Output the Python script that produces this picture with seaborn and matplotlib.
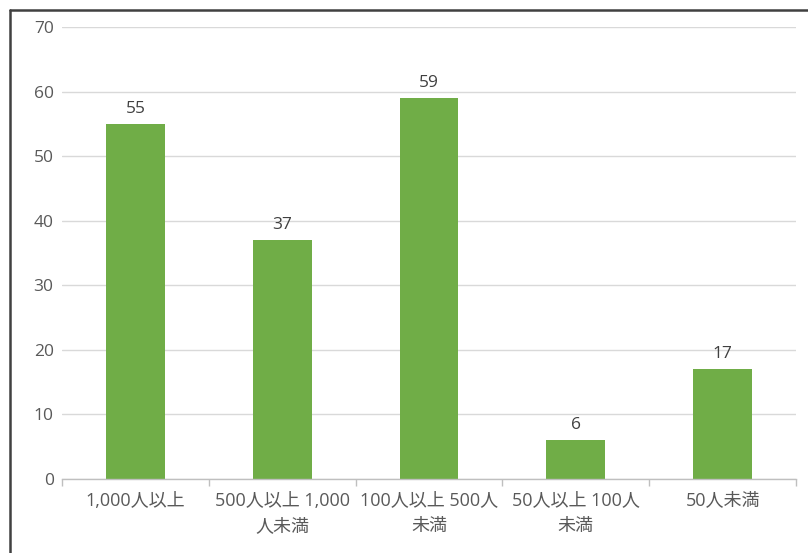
import matplotlib
matplotlib.use("Agg")
import matplotlib.pyplot as plt
import seaborn as sns
import pandas as pd
from matplotlib.lines import Line2D
from matplotlib.ticker import FixedLocator

categories = ["1,000人以上", "500人以上 1,000\n人未満", "100人以上 500人\n未満", "50人以上 100人\n未満", "50人未満"]
values = [55, 37, 59, 6, 17]
yticks = [0, 10, 20, 30, 40, 50, 60, 70]

sns.set_theme(style="white")
plt.rcParams['font.family'] = ['Open Sans', 'Noto Sans CJK JP', 'DejaVu Sans']

df = pd.DataFrame({"cat": categories, "val": values})

fig = plt.figure(figsize=(8.08, 5.53), dpi=100)
ax = fig.add_axes([62/808, 1-479/553, (796-62)/808, (479-27)/553])

sns.barplot(data=df, x="cat", y="val", color="#70ad47", saturation=1, width=0.4, ax=ax, edgecolor="none")

ax.set_ylim(0, 70)
ax.set_xlim(-0.5, len(categories)-0.5)
ax.set_yticks(yticks)
ax.yaxis.grid(True, color="#d9d9d9", linewidth=1)
ax.set_axisbelow(True)
ax.set_xlabel("")
ax.set_ylabel("")
for s in ["top", "right", "left"]:
    ax.spines[s].set_visible(False)
ax.spines["bottom"].set_color("#bfbfbf")
ax.spines["bottom"].set_linewidth(1)

ax.tick_params(axis="y", length=0, labelsize=12.5, labelcolor="#595959", pad=6)
ax.tick_params(axis="x", which="major", length=0, labelsize=13, labelcolor="#595959", pad=9)
ax.xaxis.set_minor_locator(FixedLocator([i - 0.5 for i in range(len(categories)+1)]))
ax.tick_params(axis="x", which="minor", length=5, color="#bfbfbf", width=1, bottom=True)
for lab in ax.get_xticklabels():
    lab.set_linespacing(1.55)
    lab.set_verticalalignment("top")

for c in ax.containers:
    ax.bar_label(c, labels=[str(v) for v in values], padding=5, fontsize=12.5, color="#404040")

# outer border lines (left and top)
fig.add_artist(Line2D([10/808, 10/808], [0, 1-10/553], transform=fig.transFigure, color="#404040", linewidth=1.8))
fig.add_artist(Line2D([10/808, 1], [1-10/553, 1-10/553], transform=fig.transFigure, color="#404040", linewidth=1.8))

fig.savefig("out.png", dpi=100)
